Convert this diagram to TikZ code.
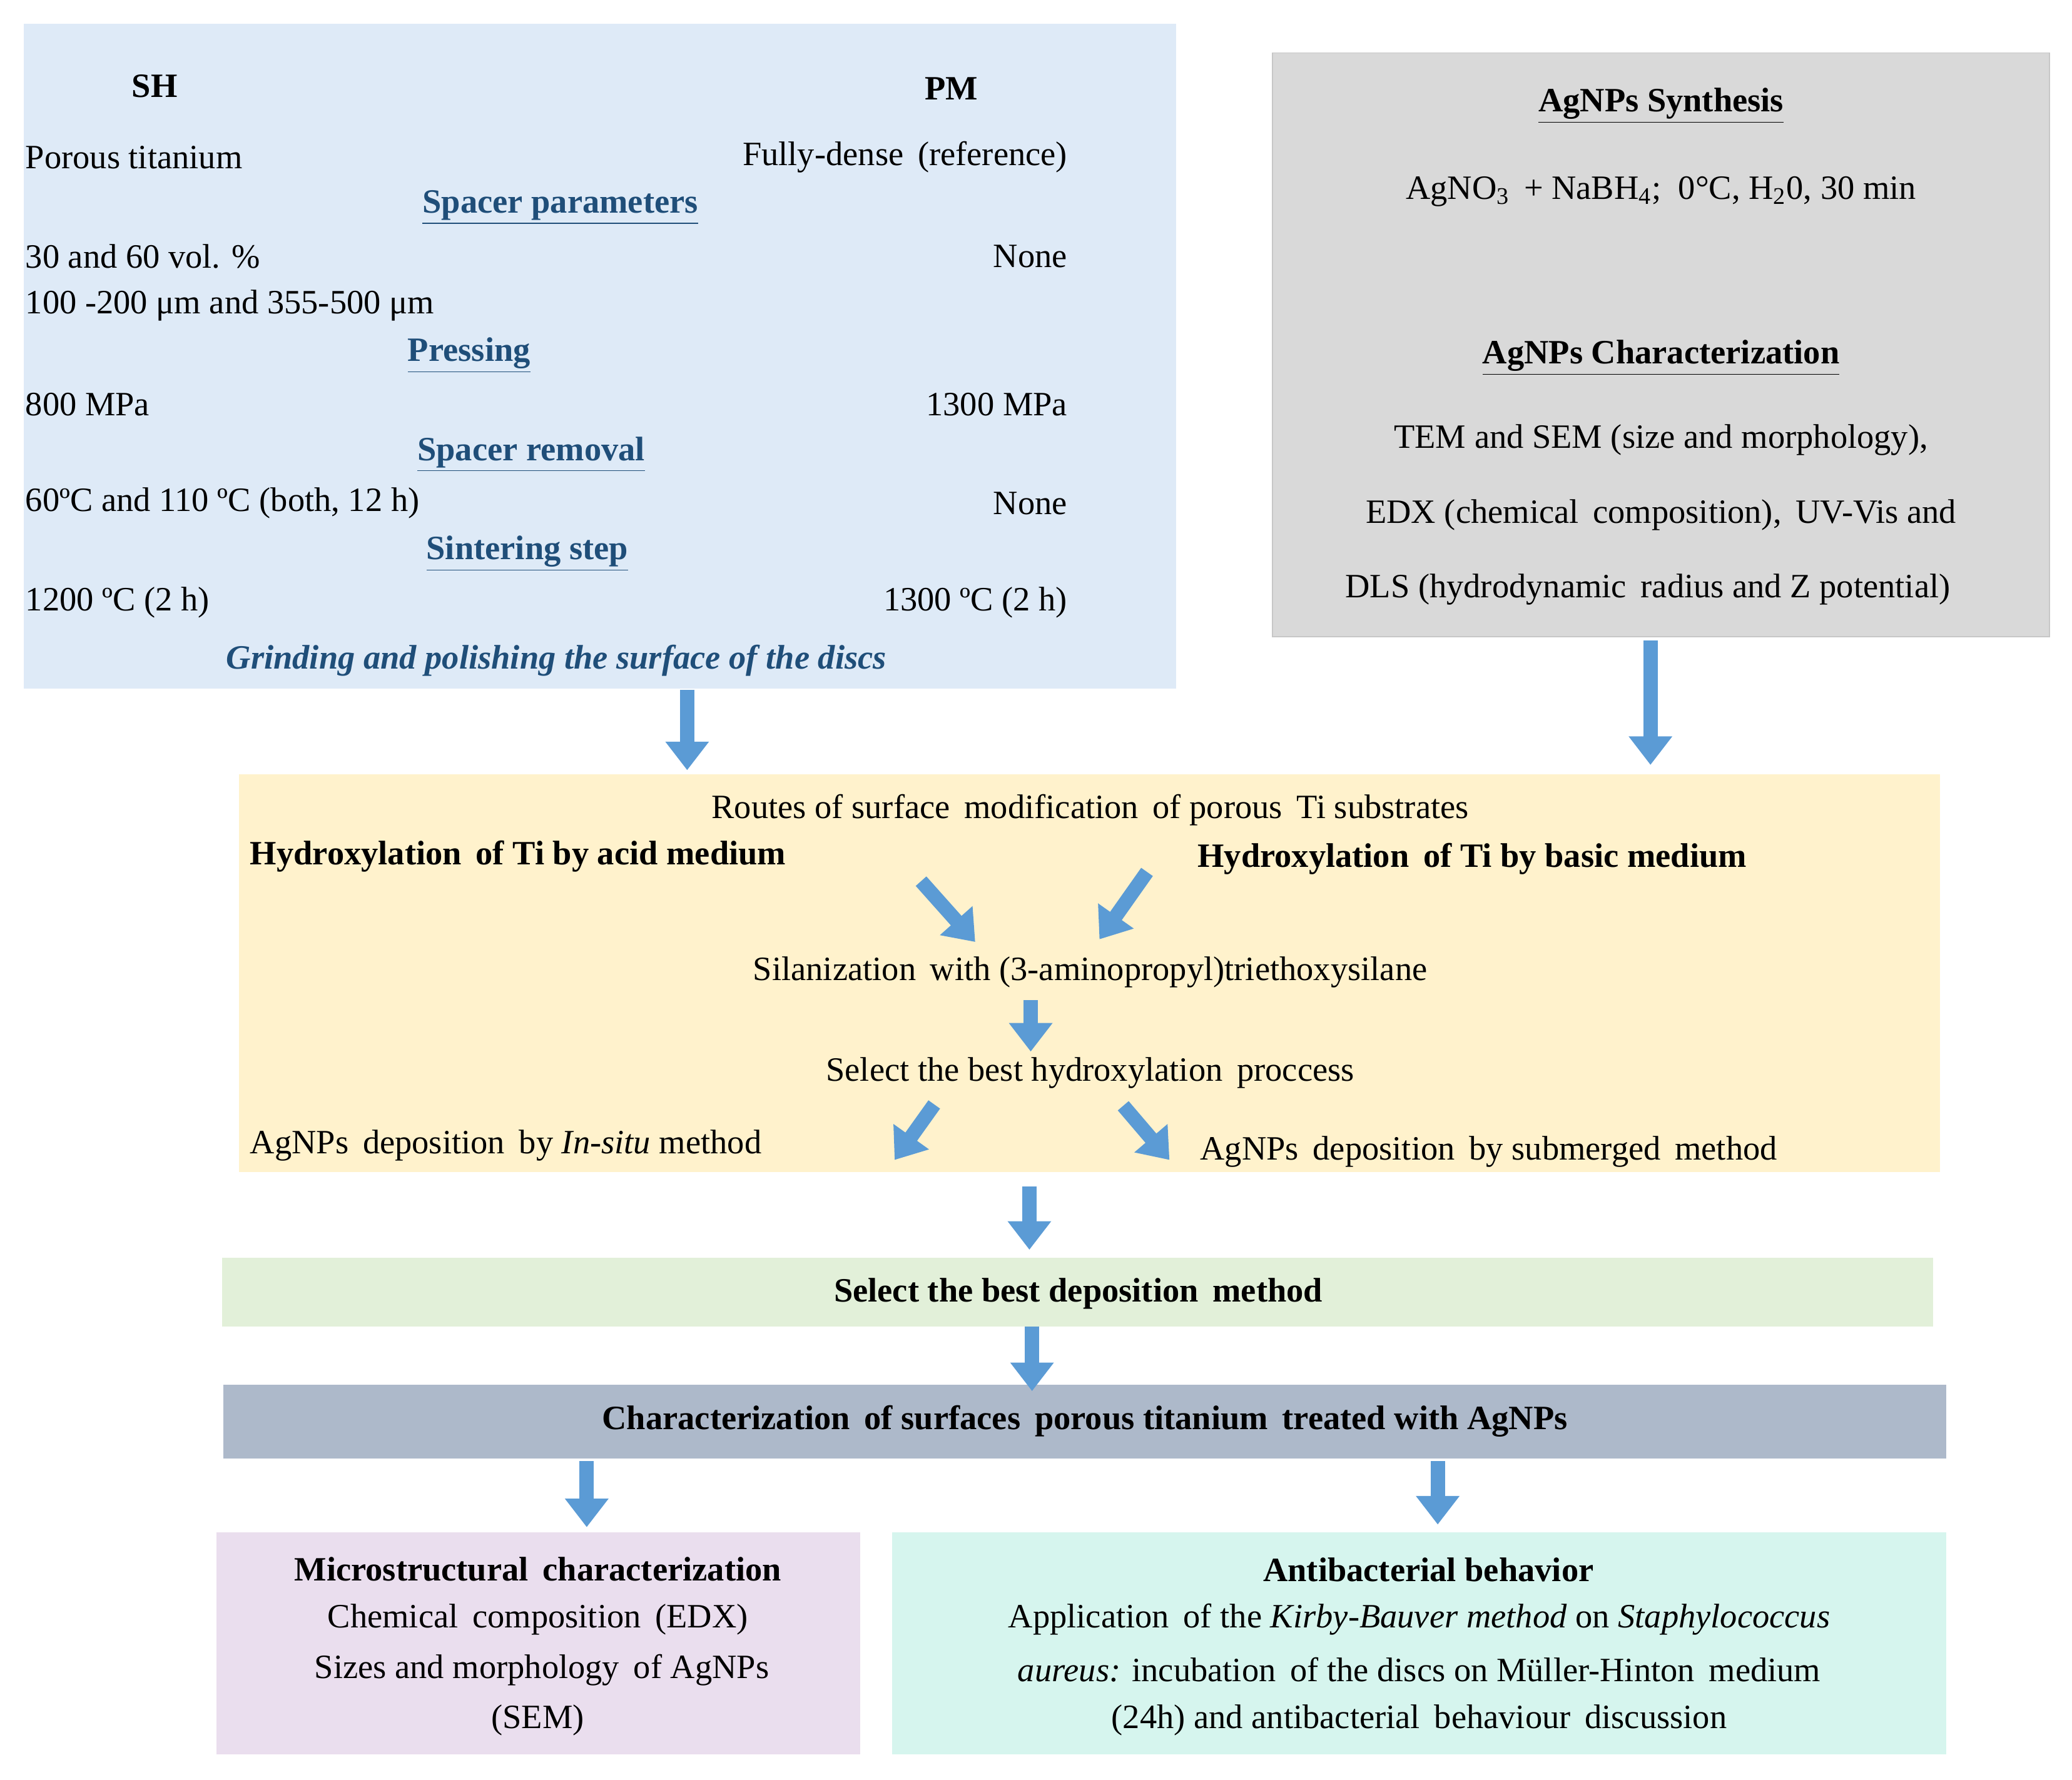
\documentclass[tikz,border=0pt]{standalone}
\usepackage{fontspec}
\setmainfont{Liberation Serif}
\usetikzlibrary{arrows.meta,positioning}
\definecolor{boxblue}{RGB}{222,234,247}
\definecolor{boxgray}{RGB}{217,217,217}
\definecolor{boxyellow}{RGB}{255,242,204}
\definecolor{boxgreen}{RGB}{226,240,217}
\definecolor{boxslate}{RGB}{173,185,202}
\definecolor{boxpink}{RGB}{234,222,238}
\definecolor{boxcyan}{RGB}{214,245,238}
\definecolor{arrowblue}{RGB}{91,155,213}
\definecolor{headblue}{RGB}{31,78,121}
\tikzset{
  panel/.style={inner sep=0pt, draw=#1!80!gray, fill=#1},
  txt/.style={inner sep=0pt, font=\fontsize{15.5}{19}\selectfont},
  lft/.style={txt, anchor=west},
  rgt/.style={txt, anchor=east},
  head/.style={txt, font=\fontsize{15.5}{19}\selectfont\bfseries, text=headblue},
  bold/.style={txt, font=\fontsize{15.5}{19}\selectfont\bfseries},
  blockarrow/.style={draw=arrowblue, line width=6.5pt, -{Triangle[width=19pt,length=13pt]}}
}
\newcommand{\ul}[1]{\underline{#1}}
\begin{document}
\begin{tikzpicture}[x=0.02112cm, y=-0.02112cm]
        \useasboundingbox (0,0) rectangle (1568,1347);
        % Boxes
        \fill[boxblue] (18,18) rectangle (890,521);
        \draw[panel=boxgray] (963,40) rectangle (1551,482);
        \fill[boxyellow] (181,586) rectangle (1468,887);
        \fill[boxgreen] (168,952) rectangle (1463,1004);
        \fill[boxslate] (169,1048) rectangle (1473,1104);
        \fill[boxpink] (164,1160) rectangle (651,1328);
        \fill[boxcyan] (675,1160) rectangle (1473,1328);

        % Processing of the discs
        \node[bold] (sh) at (117,65) {SH};
        \node[bold] (pm) at (720,67) {PM};
        \node[lft] (por) at (19,119) {Porous titanium};
        \node[rgt] (dense) at (808,119) {Fully-dense\, (reference)};
        \node[head] (spacer) at (424,157) {\ul{Spacer parameters}};
        \node[lft] (vol) at (19,194) {30 and 60 vol. \%};
        \node[rgt] (none1) at (808,194) {None};
        \node[lft] (size) at (19,231) {100 -200 μm and 355-500 μm};
        \node[head] (press) at (355,269) {\ul{Pressing}};
        \node[lft] (mpa1) at (19,306) {800 MPa};
        \node[rgt] (mpa2) at (808,306) {1300 MPa};
        \node[head] (remove) at (402,344) {\ul{Spacer removal}};
        \node[lft] (temp) at (19,381) {60ºC and 110 ºC (both, 12 h)};
        \node[rgt] (none2) at (808,381) {None};
        \node[head] (sinter) at (399,419) {\ul{Sintering step}};
        \node[lft] (sint1) at (19,456) {1200 ºC (2 h)};
        \node[rgt] (sint2) at (808,456) {1300 ºC (2 h)};
        \node[head, font=\fontsize{15.5}{19}\selectfont\bfseries\itshape] (grind) at (421,500) {Grinding and polishing the surface of the discs};

        % AgNPs
        \node[bold] (synth) at (1257,80) {\ul{AgNPs Synthesis}};
        \node[txt] (react) at (1257,145) {AgNO\textsubscript{3}\, + NaBH\textsubscript{4};\ \ 0°C, H\textsubscript{2}0, 30 min};
        \node[bold] (charag) at (1257,271) {\ul{AgNPs Characterization}};
        \node[txt] (tem) at (1257,333) {TEM and SEM (size and morphology),};
        \node[txt] (edx) at (1257,390) {EDX (chemical\, composition),\, UV-Vis and};
        \node[txt] (dls) at (1247,446) {DLS (hydrodynamic\, radius and Z potential)};

        % Routes
        \node[txt] (routes) at (825,613) {Routes of surface\, modification\, of porous\, Ti substrates};
        \node[bold, anchor=west] (acid) at (189,648) {Hydroxylation\, of Ti by acid medium};
        \node[bold, anchor=west] (basic) at (906,650) {Hydroxylation\, of Ti by basic medium};
        \node[txt] (silan) at (825,736) {Silanization\, with (3-aminopropyl)triethoxysilane};
        \node[txt] (best) at (825,812) {Select the best hydroxylation\, proccess};
        \node[lft] (insitu) at (189,867) {AgNPs\, deposition\, by \textit{In-situ} method};
        \node[lft] (submer) at (908,872) {AgNPs\, deposition\, by submerged\, method};

        \node[bold] (bestdep) at (816,979) {Select the best deposition\, method};
        \node[bold] (charsurf) at (821,1076) {Characterization\, of surfaces\, porous titanium\, treated with AgNPs};

        \node[bold] (micro) at (407,1188) {Microstructural\, characterization};
        \node[txt] (chem) at (407,1226) {Chemical\, composition\, (EDX)};
        \node[txt] (sizes) at (410,1264) {Sizes and morphology\, of AgNPs};
        \node[txt] (sem) at (407,1302) {(SEM)};
        \node[bold] (antib) at (1081,1188) {Antibacterial behavior};
        \node[txt] (kirby) at (1074,1226) {Application\, of the \textit{Kirby-Bauver method} on \textit{Staphylococcus}};
        \node[txt] (aureus) at (1074,1264) {\textit{aureus:} incubation\, of the discs on Müller-Hinton\, medium};
        \node[txt] (disc) at (1074,1302) {(24h) and antibacterial\, behaviour\, discussion};

        % Arrows
        \coordinate (a1) at (520,522);  \coordinate (b1) at (520,583);
        \coordinate (a2) at (1249,485); \coordinate (b2) at (1249,579);
        \coordinate (a3) at (780,757);  \coordinate (b3) at (780,796);
        \coordinate (a4) at (779,898);  \coordinate (b4) at (779,946);
        \coordinate (a5) at (781,1004); \coordinate (b5) at (781,1053);
        \coordinate (a6) at (444,1106); \coordinate (b6) at (444,1156);
        \coordinate (a7) at (1088,1106); \coordinate (b7) at (1088,1154);
        \coordinate (c1) at (697,667);  \coordinate (d1) at (738,713);
        \coordinate (c2) at (868,660);  \coordinate (d2) at (832,711);
        \coordinate (c3) at (707,836);  \coordinate (d3) at (677,878);
        \coordinate (c4) at (850,837);  \coordinate (d4) at (885,878);
        \foreach \i in {1,...,7}
          \draw[blockarrow] (a\i) -- (b\i);
        \foreach \i in {1,...,4}
          \draw[blockarrow] (c\i) -- (d\i);
      \end{tikzpicture}
\end{document}
